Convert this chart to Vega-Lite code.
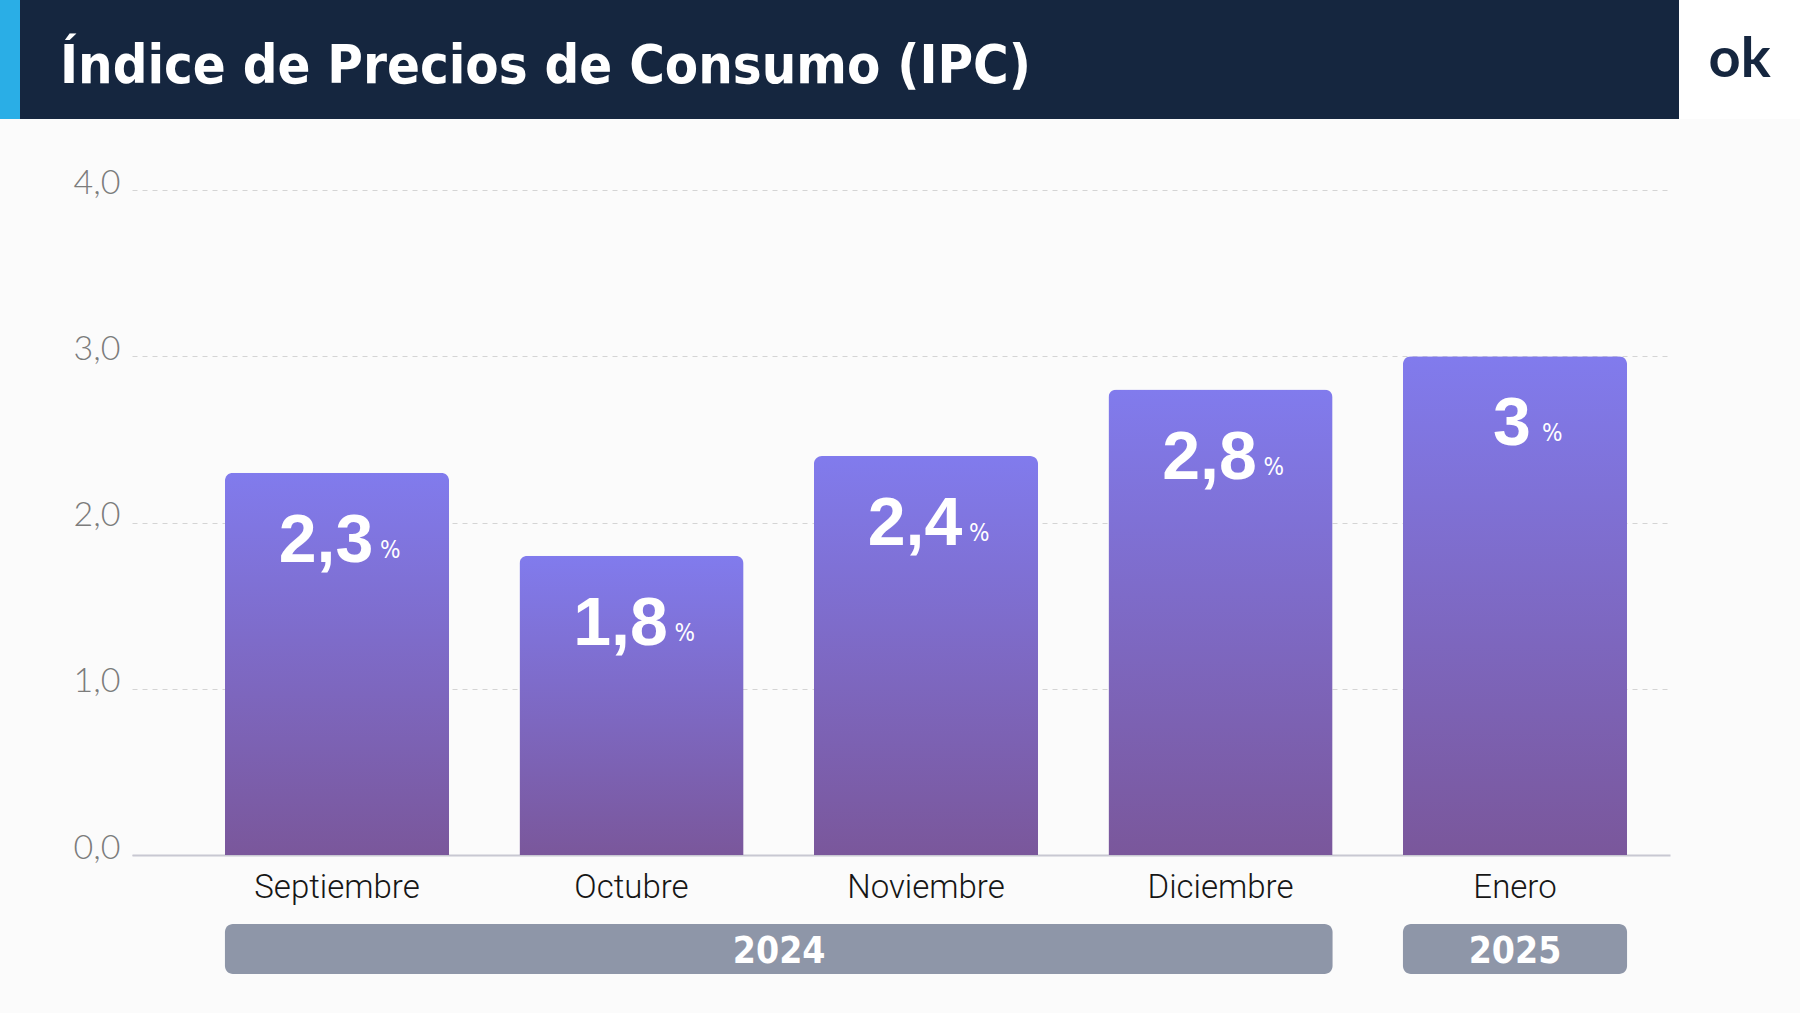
{
  "$schema": "https://vega.github.io/schema/vega-lite/v6.json",
  "background": "#fbfbfb",
  "padding": {"left": 0, "top": 0, "right": 0, "bottom": 40},
  "spacing": 47,
  "config": {
    "view": {"stroke": null},
    "locale": {"number": {"decimal": ",", "thousands": ".", "grouping": [3], "currency": ["", " €"]}}
  },
  "vconcat": [
    {
      "spacing": 0,
      "hconcat": [
        {
          "width": 20, "height": 119,
          "view": {"fill": "#2aaee6", "stroke": null},
          "data": {"values": [{"t": ""}]},
          "mark": {"type": "text"},
          "encoding": {"text": {"field": "t"}}
        },
        {
          "width": 1659, "height": 119,
          "view": {"fill": "#15263f", "stroke": null},
          "data": {"values": [{"t": "Índice de Precios de Consumo (IPC)"}]},
          "mark": {"type": "text", "align": "left", "baseline": "alphabetic", "dx": -789.5, "dy": 23, "font": "DejaVu Sans Condensed", "fontWeight": "bold", "fontSize": 54, "color": "#ffffff"},
          "encoding": {"text": {"field": "t"}}
        },
        {
          "width": 121, "height": 119,
          "view": {"fill": "#ffffff", "stroke": null},
          "data": {"values": [{"t": "ok"}]},
          "mark": {"type": "text", "align": "center", "baseline": "alphabetic", "dy": 17.5, "font": "Lato", "fontWeight": "bold", "fontSize": 56, "color": "#15263f"},
          "encoding": {"text": {"field": "t"}}
        }
      ]
    },
    {
      "spacing": 0,
      "hconcat": [
        {
          "width": 73, "height": 10,
          "data": {"values": [{"t": ""}]},
          "mark": {"type": "text"},
          "encoding": {"text": {"field": "t"}}
        },
        {
          "spacing": 69,
          "bounds": "flush",
          "vconcat": [
            {
              "width": 1538, "height": 665,
              "data": {"values": [
                {"month": "Septiembre", "value": 2.3},
                {"month": "Octubre", "value": 1.8},
                {"month": "Noviembre", "value": 2.4},
                {"month": "Diciembre", "value": 2.8},
                {"month": "Enero", "value": 3.0}
              ]},
              "encoding": {
                "x": {
                  "field": "month", "type": "nominal", "sort": null,
                  "scale": {"domain": ["Septiembre", "Octubre", "Noviembre", "Diciembre", "Enero"], "paddingInner": 0.239, "paddingOuter": 0.2307, "align": 0.684},
                  "axis": {"title": null, "ticks": false, "domain": true, "domainColor": "#c8c8d2", "domainWidth": 2, "labelAngle": 0, "labelFont": "Roboto", "labelFontWeight": 300, "labelFontSize": 33, "labelColor": "#161616", "labelPadding": 16, "grid": false}
                },
                "y": {
                  "field": "value", "type": "quantitative",
                  "scale": {"domain": [0, 4], "nice": false},
                  "axis": {"values": [0, 1, 2, 3, 4], "format": ".1f", "title": null, "grid": true, "gridDash": [5, 5], "gridColor": "#d4d4d4", "gridWidth": 1, "ticks": false, "domain": false, "labelFont": "Lato", "labelFontWeight": 300, "labelFontSize": 34, "labelColor": "#7c7c7c", "labelPadding": 12, "labelOffset": -7}
                }
              },
              "layer": [
                {
                  "mark": {
                    "type": "bar",
                    "cornerRadiusTopLeft": 8, "cornerRadiusTopRight": 8,
                    "color": {"gradient": "linear", "x1": 0, "y1": 0, "x2": 0, "y2": 1, "stops": [{"offset": 0, "color": "#817bed"}, {"offset": 1, "color": "#7a579b"}]}
                  }
                },
                {
                  "transform": [{"filter": "datum.value != round(datum.value)"}],
                  "mark": {"type": "text", "align": "center", "baseline": "alphabetic", "dx": -11, "dy": 89, "font": "Liberation Sans", "fontWeight": "bold", "fontSize": 68, "color": "#ffffff"},
                  "encoding": {"text": {"field": "value", "type": "quantitative", "format": ".1~f"}}
                },
                {
                  "transform": [{"filter": "datum.value == round(datum.value)"}],
                  "mark": {"type": "text", "align": "center", "baseline": "alphabetic", "dx": -3, "dy": 89, "font": "Liberation Sans", "fontWeight": "bold", "fontSize": 68, "color": "#ffffff"},
                  "encoding": {"text": {"field": "value", "type": "quantitative", "format": ".1~f"}}
                },
                {
                  "transform": [{"filter": "datum.value != round(datum.value)"}],
                  "mark": {"type": "text", "align": "left", "baseline": "alphabetic", "dx": 43, "dy": 85, "font": "DejaVu Sans Condensed", "fontSize": 24, "color": "#ffffff"},
                  "encoding": {"text": {"value": "%"}}
                },
                {
                  "transform": [{"filter": "datum.value == round(datum.value)"}],
                  "mark": {"type": "text", "align": "left", "baseline": "alphabetic", "dx": 27, "dy": 85, "font": "DejaVu Sans Condensed", "fontSize": 24, "color": "#ffffff"},
                  "encoding": {"text": {"value": "%"}}
                }
              ]
            },
            {
              "width": 1538, "height": 50,
              "data": {"values": [
                {"year": "2024", "start": "Septiembre", "end": "Diciembre"},
                {"year": "2025", "start": "Enero", "end": "Enero"}
              ]},
              "layer": [
                {
                  "mark": {"type": "rect", "color": "#8e96a8", "cornerRadius": 8},
                  "encoding": {
                    "x": {"field": "start", "type": "nominal", "bandPosition": 0, "scale": {"domain": ["Septiembre", "Octubre", "Noviembre", "Diciembre", "Enero"], "paddingInner": 0.239, "paddingOuter": 0.2307, "align": 0.684}, "axis": null},
                    "x2": {"field": "end", "bandPosition": 1}
                  }
                },
                {
                  "transform": [{"filter": "datum.year == '2024'"}],
                  "mark": {"type": "text", "align": "center", "baseline": "alphabetic", "dy": 14, "font": "DejaVu Sans Condensed", "fontWeight": "bold", "fontSize": 37, "color": "#ffffff"},
                  "encoding": {
                    "x": {"field": "start", "type": "nominal", "bandPosition": 2.473, "scale": {"domain": ["Septiembre", "Octubre", "Noviembre", "Diciembre", "Enero"], "paddingInner": 0.239, "paddingOuter": 0.2307, "align": 0.684}, "axis": null},
                    "text": {"field": "year"}
                  }
                },
                {
                  "transform": [{"filter": "datum.year == '2025'"}],
                  "mark": {"type": "text", "align": "center", "baseline": "alphabetic", "dy": 14, "font": "DejaVu Sans Condensed", "fontWeight": "bold", "fontSize": 37, "color": "#ffffff"},
                  "encoding": {
                    "x": {"field": "start", "type": "nominal", "bandPosition": 0.5, "scale": {"domain": ["Septiembre", "Octubre", "Noviembre", "Diciembre", "Enero"], "paddingInner": 0.239, "paddingOuter": 0.2307, "align": 0.684}, "axis": null},
                    "text": {"field": "year"}
                  }
                }
              ]
            }
          ]
        }
      ]
    }
  ]
}
